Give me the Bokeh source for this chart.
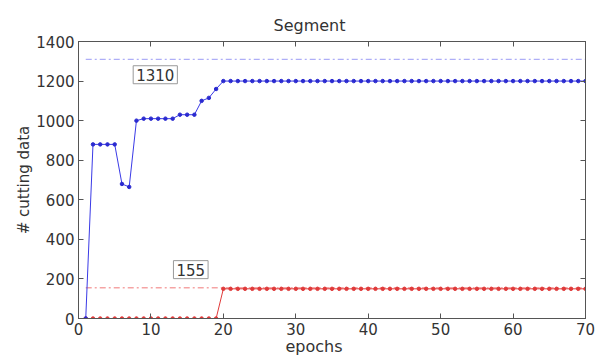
from bokeh.plotting import figure
from bokeh.models import LinearAxis, FixedTicker, Label, CustomJSTickFormatter, Title
from bokeh.embed import file_html
from bokeh.resources import INLINE

# Number of cutting data per epoch for the two runs
epochs = list(range(1, 71))
blue_counts = [0, 880, 880, 880, 880, 680, 665, 1000, 1010, 1010,
               1010, 1010, 1010, 1030, 1030, 1030, 1100, 1115, 1160] + [1200] * 51
red_counts = [0] * 19 + [150] * 51

# Reference bounds shown as dash-dot lines with boxed labels
blue_bound = 1310
red_bound = 155

x_ticks = [0, 10, 20, 30, 40, 50, 60, 70]
y_ticks = [0, 200, 400, 600, 800, 1000, 1200, 1400]

FONT = "DejaVu Sans"
AXIS_COL = "#555555"
TEXT_COL = "#333333"
BLUE = "#3a3ae6"
RED = "#e03a3a"

p = figure(width=597, height=363, x_range=(0, 70), y_range=(0, 1400),
           output_backend="svg", toolbar_location=None,
           min_border_left=78, min_border_right=12,
           min_border_top=41, min_border_bottom=45,
           title="Segment")
p.title.align = "left"
p.title.offset = 195
p.title.standoff = 14
p.title.text_font = FONT
p.title.text_font_size = "16px"
p.title.text_font_style = "normal"
p.title.text_color = TEXT_COL
p.grid.visible = False
p.outline_line_color = AXIS_COL
p.background_fill_color = "white"

def style_axis(ax, labels=True):
    ax.major_tick_in = 5
    ax.major_tick_out = 0
    ax.minor_tick_line_color = None
    ax.axis_line_color = AXIS_COL
    ax.major_tick_line_color = AXIS_COL
    ax.major_label_text_font = FONT
    ax.major_label_text_color = TEXT_COL
    ax.major_label_text_font_size = "15px"
    ax.axis_label_text_font = FONT
    ax.axis_label_text_font_style = "normal"
    ax.axis_label_text_color = TEXT_COL
    ax.axis_label_text_font_size = "15px"
    if not labels:
        ax.formatter = CustomJSTickFormatter(code="return ''")
        ax.major_label_standoff = 0

xa = p.xaxis[0]
style_axis(xa)
xa.ticker = FixedTicker(ticks=x_ticks)
xa.major_label_standoff = 4

ya = p.yaxis[0]
style_axis(ya)
ya.ticker = FixedTicker(ticks=y_ticks)
ya.axis_label = "# cutting data"
ya.major_label_standoff = 4
ya.axis_label_standoff = 0

top = LinearAxis(ticker=FixedTicker(ticks=x_ticks))
style_axis(top, labels=False)
p.add_layout(top, "above")
right = LinearAxis(ticker=FixedTicker(ticks=y_ticks))
style_axis(right, labels=False)
p.add_layout(right, "right")

# x-axis title under the tick labels
p.add_layout(Title(text="epochs", align="left", offset=207, standoff=-6,
                   text_font=FONT, text_font_size="16px", text_font_style="normal",
                   text_color=TEXT_COL), "below")

# Dash-dot bound lines across the epochs
span_x = [epochs[0], epochs[-1]]
p.line(span_x, [blue_bound] * 2, line_color="#9a9af5", line_width=1, line_dash="6 3 2 3")
p.line(span_x, [red_bound] * 2, line_color="#f07878", line_width=1, line_dash="6 3 2 3")

# Series lines with dot markers
p.line(epochs, red_counts, line_color=RED, line_width=1)
p.scatter(epochs, red_counts, marker="circle", size=3.5, color=RED)
p.line(epochs, blue_counts, line_color=BLUE, line_width=1)
p.scatter(epochs, blue_counts, marker="circle", size=3.5, color="#2a2ad0")

for val, lx, ly in [(blue_bound, 10.6, 1232), (red_bound, 15.5, 247)]:
    p.add_layout(Label(x=lx, y=ly, text=str(val), text_align="center",
                       text_baseline="middle", text_font=FONT,
                       text_font_size="15px", text_color=TEXT_COL,
                       border_line_color="#999999", background_fill_color="white",
                       padding=3))

open("out.html", "w").write(file_html(p, INLINE))
